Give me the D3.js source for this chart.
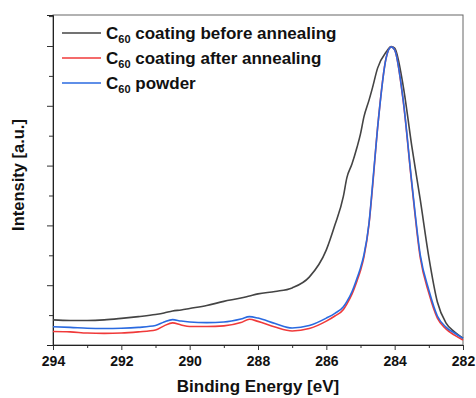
<!DOCTYPE html>
<html>
<head>
<meta charset="utf-8">
<script src="https://cdn.jsdelivr.net/npm/d3@7"></script>
<style>
  html, body { margin: 0; padding: 0; background: #fff; }
  svg { display: block; font-family: "Liberation Sans", Arial, sans-serif; }
  .tick-label { font-size: 14px; font-weight: bold; fill: #111; }
  .label-style { font-size: 17px; font-weight: bold; fill: #111; }
  .legend-text { font-size: 17px; font-weight: bold; fill: #111; }
</style>
</head>
<body>
<div id="chart"></div>
<script>
// binding energy grid (eV)
const energy = [294, 293.5, 293, 292.5, 292, 291.5, 291, 290.75, 290.5, 290.25, 290, 289.5, 289, 288.5, 288.25, 288, 287.5, 287,
  286.5, 286, 285.75, 285.5, 285.4, 285.25, 285.1, 285, 284.9, 284.75, 284.65, 284.5, 284.25, 284.1, 284, 283.75, 283.5, 283.25,
  283, 282.75, 282.5, 282.25, 282];

// normalised intensity [a.u.]
const beforeAnnealing = [0.084, 0.082, 0.082, 0.084, 0.089, 0.095, 0.102, 0.107, 0.114, 0.117, 0.122, 0.132, 0.146, 0.157, 0.164, 0.171, 0.179, 0.191,
  0.227, 0.318, 0.401, 0.498, 0.559, 0.605, 0.662, 0.706, 0.763, 0.819, 0.860, 0.926, 0.980, 0.998, 0.993, 0.866, 0.666, 0.485,
  0.294, 0.144, 0.074, 0.044, 0.023];
const afterAnnealing = [0.045, 0.044, 0.040, 0.039, 0.040, 0.044, 0.050, 0.064, 0.074, 0.067, 0.062, 0.062, 0.064, 0.075, 0.086, 0.079, 0.060, 0.047,
  0.055, 0.080, 0.097, 0.119, 0.137, 0.170, 0.215, 0.249, 0.294, 0.405, 0.525, 0.726, 0.960, 0.997, 0.987, 0.816, 0.539, 0.291,
  0.174, 0.090, 0.054, 0.033, 0.017];
const powder = [0.061, 0.059, 0.056, 0.055, 0.056, 0.059, 0.065, 0.077, 0.085, 0.080, 0.077, 0.075, 0.077, 0.087, 0.095, 0.090, 0.072, 0.057,
  0.065, 0.090, 0.106, 0.128, 0.145, 0.178, 0.224, 0.258, 0.301, 0.408, 0.532, 0.726, 0.960, 0.997, 0.987, 0.819, 0.545, 0.301,
  0.184, 0.097, 0.060, 0.040, 0.022];

const seriesNames = ['before', 'after', 'powder'];
const seriesColours = ['#444444', '#f03a3a', '#2a6ae0'];
const legendLabels = [' coating before annealing', ' coating after annealing', ' powder'];

const xTicks = [294, 292, 290, 288, 286, 284, 282];

const margin = {top: 15, right: 13, bottom: 53, left: 53};
const totalW = 476, totalH = 398;
const width = totalW - margin.left - margin.right;
const height = totalH - margin.top - margin.bottom;

const svg = d3.select('#chart').append('svg')
    .attr('width', totalW)
    .attr('height', totalH)
  .append('g')
    .attr('transform', 'translate(' + margin.left + ',' + margin.top + ')');

const x = d3.scaleLinear().domain([294, 282]).range([0, width]);
const y = d3.scaleLinear().domain([0, height / 299]).range([height, 0]);

// frame
svg.append('rect')
    .attr('x', 0).attr('y', 0)
    .attr('width', width).attr('height', height)
    .attr('fill', 'none')
    .attr('stroke', '#666')
    .attr('stroke-width', 1);

// X axis: major ticks with labels, minor ticks between
const xMinor = d3.range(293, 282, -2);
svg.append('g')
    .attr('transform', 'translate(0,' + height + ')')
    .call(d3.axisBottom(x).tickValues(xMinor).tickSize(3).tickFormat(''))
    .call(g => g.select('.domain').remove())
    .selectAll('line').attr('stroke', '#333');
const xAxisG = svg.append('g')
    .attr('transform', 'translate(0,' + height + ')')
    .call(d3.axisBottom(x).tickValues(xTicks).tickSize(5).tickPadding(6).tickFormat(d3.format('d')));
xAxisG.select('.domain').attr('stroke', '#222');
xAxisG.selectAll('line').attr('stroke', '#333');
xAxisG.selectAll('text').attr('class', 'tick-label');

// X axis label
svg.append('text')
    .attr('class', 'label-style')
    .attr('x', width / 2)
    .attr('y', height + 47)
    .attr('text-anchor', 'middle')
    .text('Binding Energy [eV]');

// Y axis: ticks only, no labels
const yMajor = d3.range(0.2, 1.01, 0.2);
const yMinor = d3.range(0.1, 1.11, 0.2);
svg.append('g')
    .call(d3.axisLeft(y).tickValues(yMinor).tickSize(4).tickFormat(''))
    .call(g => g.select('.domain').remove())
    .selectAll('line').attr('stroke', '#333');
const yAxisG = svg.append('g')
    .call(d3.axisLeft(y).tickValues(yMajor).tickSize(6).tickFormat(''));
yAxisG.select('.domain').attr('stroke', '#222');
yAxisG.selectAll('line').attr('stroke', '#333');

// Y axis label
svg.append('text')
    .attr('class', 'label-style')
    .style('font-size', '16.5px')
    .attr('transform', 'translate(' + (-29) + ',' + (height / 2 - 5) + ') rotate(-90)')
    .attr('text-anchor', 'middle')
    .text('Intensity [a.u.]');

// spectra
const allSeries = [beforeAnnealing, afterAnnealing, powder];
const line = d3.line()
    .x((d, i) => x(energy[i]))
    .y(d => y(d))
    .curve(d3.curveMonotoneX);

allSeries.forEach((vals, k) => {
  svg.append('path')
      .datum(vals)
      .attr('class', 'spectrum-' + seriesNames[k])
      .attr('fill', 'none')
      .attr('stroke', seriesColours[k])
      .attr('stroke-width', 1.6)
      .attr('stroke-linejoin', 'round')
      .attr('d', line);
});

// legend
const legend = svg.append('g').attr('transform', 'translate(9,18)');
legendLabels.forEach((lab, k) => {
  const row = legend.append('g').attr('transform', 'translate(0,' + (k * 25) + ')');
  row.append('line')
      .attr('x1', 0).attr('x2', 39)
      .attr('y1', 0).attr('y2', 0)
      .attr('stroke', seriesColours[k])
      .attr('stroke-width', 1.6);
  const t = row.append('text')
      .attr('class', 'legend-text')
      .attr('x', 44)
      .attr('y', 6);
  t.append('tspan').text('C');
  t.append('tspan').attr('dy', 4).style('font-size', '11px').text('60');
  t.append('tspan').attr('dy', -4).text(lab);
});
</script>
</body>
</html>
